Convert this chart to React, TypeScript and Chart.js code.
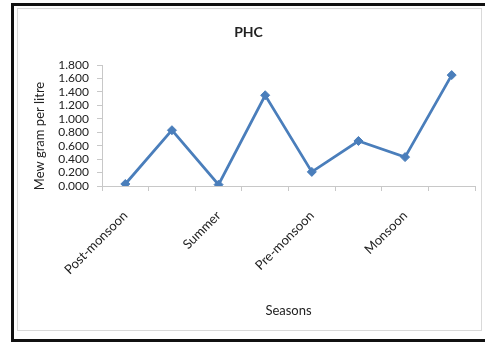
import React, { useEffect, useRef } from "react";
import { Chart, registerables } from "chart.js";

Chart.register(...registerables);

// Sampling occasions, two per season; only the first of each pair is labelled
const categories = ["Post-monsoon", "", "Summer", "", "Pre-monsoon", "", "Monsoon", ""];
// PHC concentration (microgram per litre)
const phcValues = [0.03, 0.83, 0.02, 1.35, 0.21, 0.67, 0.43, 1.65];
const yMin = 0;
const yMax = 1.8;
const yStep = 0.2;
const yTitle = "Mew gram per litre";

const FONT = "Lato, 'Open Sans', sans-serif";

// Frame around the whole figure, the thin chart-area border and the y-axis title
const framePlugin = {
  id: "frame",
  beforeDraw(chart: any) {
    const ctx = chart.ctx;
    ctx.save();
    ctx.fillStyle = "#ffffff";
    ctx.fillRect(0, 0, chart.width, chart.height);
    ctx.restore();
  },
  afterDraw(chart: any) {
    const ctx = chart.ctx;
    ctx.save();
    ctx.strokeStyle = "#d9d9d9";
    ctx.lineWidth = 1;
    ctx.strokeRect(17.5, 8.5, 464, 322);
    ctx.strokeStyle = "#111111";
    ctx.lineWidth = 3;
    ctx.strokeRect(12.5, 4.5, 480, 336);

    ctx.translate(40, 136);
    ctx.rotate(-Math.PI / 2);
    ctx.fillStyle = "#222";
    ctx.font = `13px ${FONT}`;
    ctx.textAlign = "center";
    ctx.textBaseline = "middle";
    ctx.fillText(yTitle, 0, 0);
    ctx.restore();
  },
};

export default function App() {
  const canvasRef = useRef<HTMLCanvasElement | null>(null);

  useEffect(() => {
    document.body.style.margin = "0";
    const canvas = canvasRef.current;
    if (!canvas) return;
    const chart = new Chart(canvas, {
      type: "line",
      data: {
        labels: categories,
        datasets: [
          {
            data: phcValues,
            borderColor: "#4a7ebb",
            backgroundColor: "#4a7ebb",
            borderWidth: 2.8,
            pointStyle: "rectRot",
            pointRadius: 4.5,
            pointBorderWidth: 1,
            tension: 0,
          },
        ],
      },
      options: {
        animation: false,
        responsive: false,
        layout: { padding: { left: 22, right: 10, top: 0, bottom: 0 } },
        plugins: {
          legend: { display: false },
          tooltip: { enabled: false },
          title: {
            display: true,
            text: "PHC",
            color: "#222",
            font: { family: FONT, size: 14, weight: "bold" },
            padding: { top: 24.1, bottom: 24.1 },
          },
        },
        scales: {
          x: {
            offset: true,
            grid: {
              offset: true,
              drawOnChartArea: false,
              drawTicks: true,
              tickLength: 5,
              color: "#c8c8c8",
            },
            border: { display: true, color: "#c8c8c8" },
            ticks: {
              autoSkip: false,
              minRotation: 45,
              maxRotation: 45,
              padding: 17,
              color: "#222",
              font: { family: FONT, size: 13 },
            },
            title: {
              display: true,
              text: "Seasons",
              color: "#222",
              font: { family: FONT, size: 13 },
              padding: { top: 0, bottom: 23 },
            },
            afterFit(scale: any) {
              scale.height = 156;
            },
          },
          y: {
            min: yMin,
            max: yMax,
            grid: {
              drawOnChartArea: false,
              drawTicks: true,
              tickLength: 5,
              color: "#c8c8c8",
            },
            border: { display: true, color: "#c8c8c8" },
            ticks: {
              autoSkip: false,
              stepSize: yStep,
              padding: 8,
              color: "#222",
              font: { family: FONT, size: 12 },
              callback: (v: any) => Number(v).toFixed(3),
            },
            afterFit(scale: any) {
              scale.width = 80;
            },
          },
        },
      },
      plugins: [framePlugin],
    });
    return () => chart.destroy();
  }, []);

  return <canvas ref={canvasRef} width={485} height={342} style={{ display: "block" }} />;
}
